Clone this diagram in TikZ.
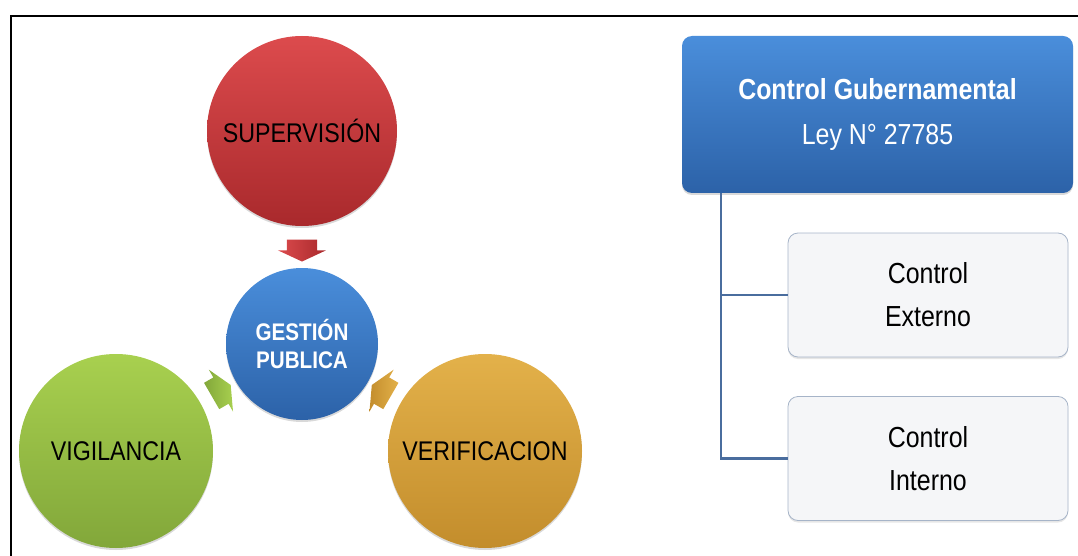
\documentclass[tikz,border=0pt]{standalone}
\usepackage{fontspec}
\setmainfont{Liberation Sans}[FakeStretch=0.86]
\usetikzlibrary{shapes.arrows,shadows,calc}
\definecolor{rojoA}{HTML}{DC4B4D}
\definecolor{rojoB}{HTML}{A9292C}
\definecolor{azulA}{HTML}{4A8EDB}
\definecolor{azulB}{HTML}{2C62A8}
\definecolor{verdeA}{HTML}{A8D04F}
\definecolor{verdeB}{HTML}{82A73A}
\definecolor{oroA}{HTML}{E3B14A}
\definecolor{oroB}{HTML}{C38D2C}
\definecolor{gris}{HTML}{F5F6F8}
\definecolor{borde}{HTML}{A6B4C8}
\definecolor{linea}{HTML}{4A6D9E}
\begin{document}
\begin{tikzpicture}[x=1pt,y=-1pt,
    circulo/.style={circle,inner sep=0pt,align=center,
        drop shadow={opacity=0.3,shadow xshift=0pt,shadow yshift=-2pt},
        font=\fontsize{27}{30}\selectfont},
    flecha/.style={single arrow,inner xsep=0pt,inner ysep=15pt,minimum height=22pt,
        single arrow head extend=9pt,single arrow tip angle=130},
    cajaazul/.style={rounded corners=10pt,top color=azulA,bottom color=azulB,
        text=white,align=center,minimum width=391pt,minimum height=157pt,
        drop shadow={opacity=0.3,shadow xshift=0pt,shadow yshift=-2pt},
        font=\fontsize{29}{44.5}\selectfont},
    cajagris/.style={rounded corners=10pt,fill=gris,draw=borde,line width=0.8pt,
        align=center,minimum width=280pt,minimum height=124pt,
        drop shadow={opacity=0.2,shadow xshift=0pt,shadow yshift=-2pt},
        font=\fontsize{29}{43}\selectfont},
    rama/.style={draw=linea,line width=2.5pt}]
    \useasboundingbox (0,0) rectangle (1078,556);
    % marco
    \draw[line width=2.5pt] (11,556) |- (1078,16);
    % circulos
    \node[circulo,minimum size=190pt,top color=rojoA,bottom color=rojoB] (sup) at (302,131) {SUPERVISIÓN};
    \node[circulo,minimum size=152pt,top color=azulA,bottom color=azulB,text=white,
        font=\fontsize{24}{28}\selectfont\bfseries] (gest) at (302,344) {GESTIÓN\\PUBLICA};
    \node[circulo,minimum size=194pt,top color=verdeA,bottom color=verdeB] (vig) at (116,451) {VIGILANCIA};
    \node[circulo,minimum size=194pt,top color=oroA,bottom color=oroB] (ver) at (485,451) {VERIFICACION};
    % flechas
    \node[flecha,rotate=-90,left color=rojoA,right color=rojoB] (f1) at ($(sup.south)!0.5!(gest.north)$) {};
    \node[flecha,rotate=30,left color=verdeB,right color=verdeA] (f2) at ($(vig.30)!0.5!(gest.210)$) {};
    \node[flecha,rotate=150,left color=oroB,right color=oroA] (f3) at ($(ver.150)!0.5!(gest.330)$) {};
    % control gubernamental
    \node[cajaazul] (gub) at (877.5,114.5) {\textbf{Control Gubernamental}\\Ley N° 27785};
    \node[cajagris] (ext) at (928,295) {Control\\Externo};
    \node[cajagris] (int) at (928,458.5) {Control\\Interno};
    \coordinate (tronco) at ([xshift=39pt]gub.south west);
    \draw[rama] (tronco) |- (ext.west);
    \draw[rama] (tronco) |- (int.west);
\end{tikzpicture}
\end{document}
